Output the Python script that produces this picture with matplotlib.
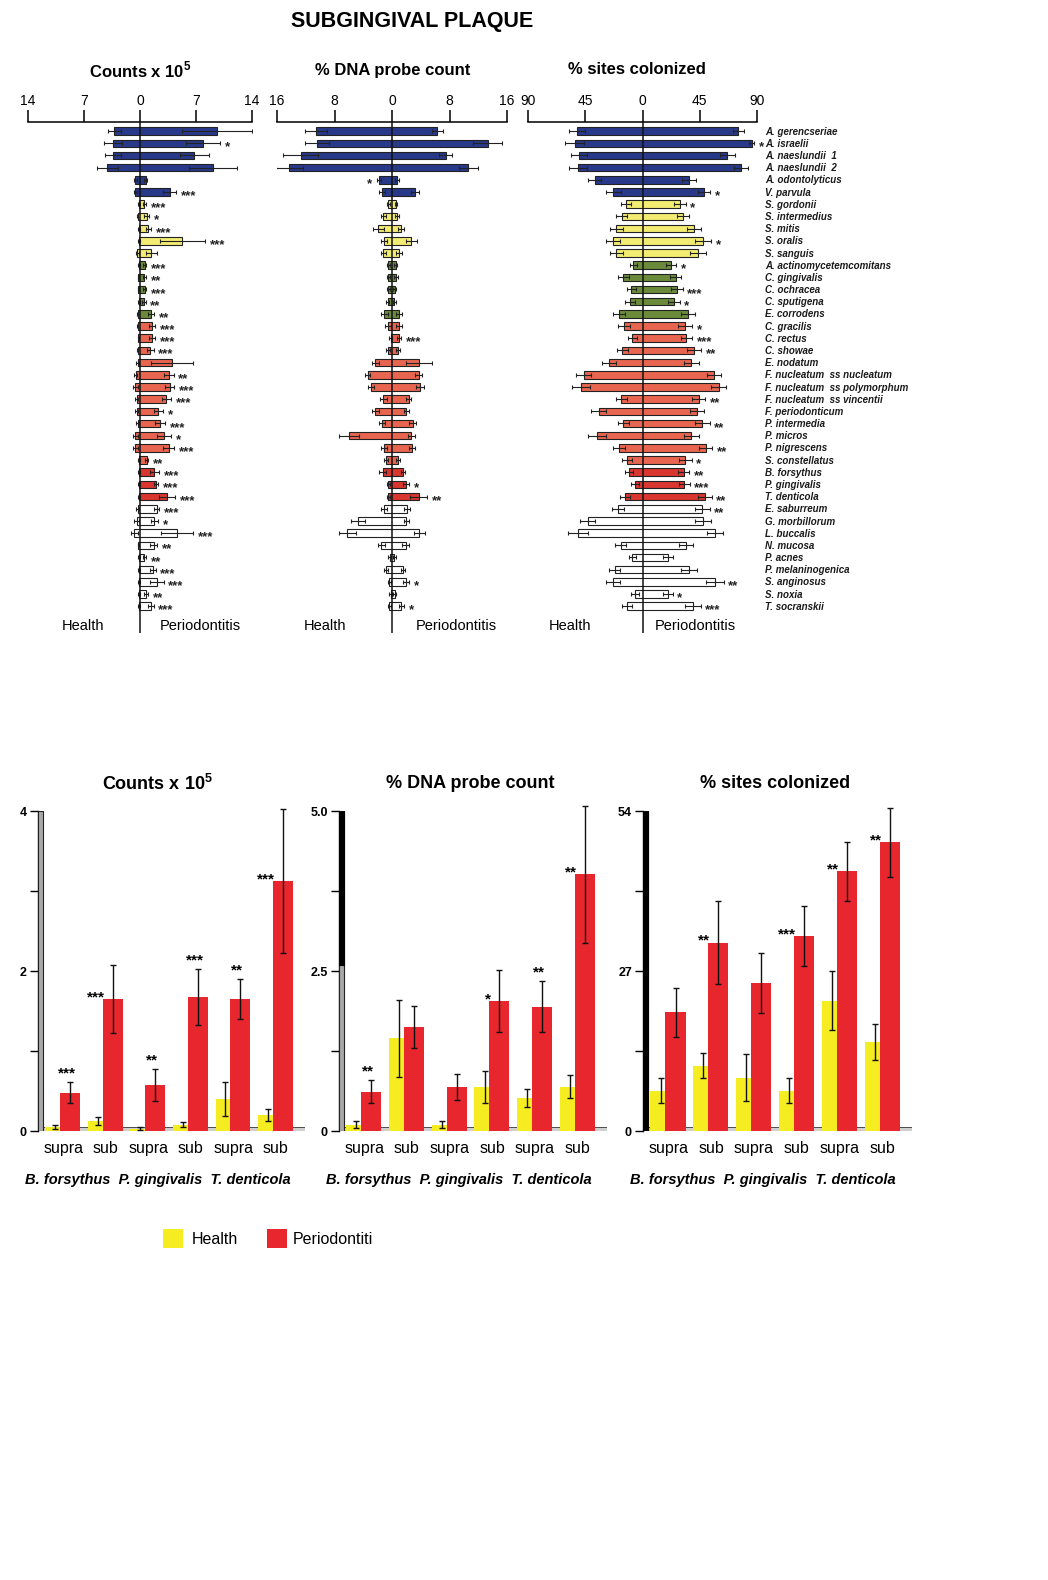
import matplotlib
matplotlib.use('Agg')
import matplotlib.pyplot as plt
from matplotlib.patches import Rectangle
from matplotlib import transforms
import numpy as np

plt.rcParams['font.family'] = ['Liberation Sans', 'DejaVu Sans']
plt.rcParams['mathtext.fontset'] = 'custom'
plt.rcParams['mathtext.rm'] = 'Liberation Sans'
plt.rcParams['mathtext.bf'] = 'Liberation Sans:bold'

# species (top panels)
species = ['A. gerencseriae', 'A. israelii', 'A. naeslundii  1', 'A. naeslundii  2', 'A. odontolyticus',
           'V. parvula', 'S. gordonii', 'S. intermedius', 'S. mitis', 'S. oralis', 'S. sanguis',
           'A. actinomycetemcomitans', 'C. gingivalis', 'C. ochracea', 'C. sputigena', 'E. corrodens',
           'C. gracilis', 'C. rectus', 'C. showae', 'E. nodatum', 'F. nucleatum  ss nucleatum',
           'F. nucleatum  ss polymorphum', 'F. nucleatum  ss vincentii', 'F. periodonticum',
           'P. intermedia', 'P. micros', 'P. nigrescens', 'S. constellatus', 'B. forsythus',
           'P. gingivalis', 'T. denticola', 'E. saburreum', 'G. morbillorum', 'L. buccalis',
           'N. mucosa', 'P. acnes', 'P. melaninogenica', 'S. anginosus', 'S. noxia', 'T. socranskii']
complex_sizes = [6, 5, 5, 12, 3, 9]
complex_colors = ['#29398a', '#f3ec72', '#6b8b3b', '#e8654f', '#d9362f', '#ffffff']

# counts x 10^5 : health / periodontitis means and errors
cnt_h = [3.2, 3.4, 3.4, 4.1, 0.6, 0.6, 0.1, 0.3, 0.1, 0.1, 0.35, 0.1, 0.2, 0.2, 0.1, 0.3, 0.3, 0.2, 0.3, 0.3,
         0.55, 0.6, 0.4, 0.4, 0.3, 0.6, 0.6, 0.1, 0.1, 0.1, 0.1, 0.3, 0.4, 0.7, 0.2, 0.1, 0.1, 0.1, 0.1, 0.1]
cnt_he = [0.8, 1.1, 1.0, 1.3, 0.2, 0.2, 0.1, 0.1, 0.1, 0.1, 0.2, 0.1, 0.1, 0.1, 0.1, 0.1, 0.1, 0.1, 0.1, 0.2,
          0.2, 0.3, 0.2, 0.2, 0.2, 0.3, 0.3, 0.1, 0.1, 0.1, 0.1, 0.2, 0.3, 0.4, 0.1, 0.1, 0.1, 0.1, 0.1, 0.1]
cnt_p = [9.6, 7.9, 6.8, 9.1, 0.7, 3.7, 0.55, 0.85, 1.05, 5.3, 1.4, 0.6, 0.55, 0.6, 0.5, 1.4, 1.5, 1.5, 1.3, 4.0,
         3.6, 3.7, 3.3, 2.3, 2.5, 3.0, 3.6, 0.85, 1.8, 2.0, 3.4, 2.1, 1.8, 4.6, 1.7, 0.55, 1.6, 2.1, 0.75, 1.35]
cnt_pe = [4.4, 2.1, 1.8, 3.0, 0.2, 0.8, 0.2, 0.3, 0.3, 2.8, 0.7, 0.2, 0.2, 0.2, 0.2, 0.4, 0.4, 0.4, 0.4, 2.6,
          0.6, 0.55, 0.6, 0.55, 0.6, 0.85, 0.7, 0.2, 0.55, 0.3, 1.0, 0.3, 0.45, 2.0, 0.4, 0.2, 0.35, 0.85, 0.3, 0.35]
cnt_stars = ['', '*', '', '', '', '***', '***', '*', '***', '***', '', '***', '**', '***', '**', '**',
             '***', '***', '***', '', '**', '***', '***', '*', '***', '*', '***', '**', '***', '***',
             '***', '***', '*', '***', '**', '**', '***', '***', '**', '***']

# % DNA probe count
dna_h = [10.6, 10.4, 12.7, 14.3, 1.8, 1.4, 0.5, 1.2, 1.9, 1.1, 1.2, 0.5, 0.5, 0.5, 0.6, 1.1, 0.6, 0.2, 0.6, 2.3,
         3.4, 2.9, 1.2, 2.3, 1.4, 6.0, 1.1, 0.85, 1.3, 0.5, 0.5, 1.1, 4.7, 6.2, 1.5, 0.3, 0.85, 0.4, 0.2, 0.4]
dna_he = [1.5, 1.7, 2.4, 1.9, 0.3, 0.4, 0.2, 0.4, 0.8, 0.4, 0.4, 0.2, 0.2, 0.2, 0.2, 0.5, 0.4, 0.2, 0.3, 0.5,
          0.4, 0.4, 0.5, 0.5, 0.4, 1.4, 0.4, 0.3, 0.5, 0.2, 0.2, 0.4, 1.0, 1.2, 0.5, 0.2, 0.3, 0.2, 0.2, 0.2]
dna_p = [6.3, 13.3, 7.5, 10.6, 0.65, 3.2, 0.55, 0.65, 1.3, 2.7, 0.95, 0.5, 0.6, 0.4, 0.3, 1.0, 1.0, 1.0, 0.8, 3.7,
         3.7, 3.9, 2.3, 2.0, 2.9, 2.7, 2.8, 0.8, 1.5, 1.9, 3.7, 2.1, 2.0, 3.8, 1.9, 0.3, 1.5, 1.9, 0.4, 1.3]
dna_pe = [0.8, 2.0, 0.9, 1.3, 0.3, 0.6, 0.2, 0.3, 0.4, 0.8, 0.4, 0.2, 0.3, 0.2, 0.2, 0.4, 0.4, 0.3, 0.3, 1.8,
          0.5, 0.6, 0.4, 0.4, 0.5, 0.5, 0.4, 0.3, 0.3, 0.4, 1.2, 0.4, 0.3, 0.8, 0.5, 0.2, 0.3, 0.4, 0.2, 0.3]
dna_stars = [''] * 17 + ['***'] + [''] * 11 + ['*', '**'] + [''] * 6 + ['*', '', '*']
dna_left_stars = {4: '*'}

# % sites colonized
site_h = [51.6, 53.4, 50.0, 50.8, 37.6, 23.0, 13.2, 16.4, 20.6, 23.0, 20.6, 7.1, 15.0, 8.7, 10.0, 18.5, 14.5,
          7.9, 15.9, 26.5, 46.3, 48.1, 16.7, 34.4, 15.0, 35.7, 18.5, 12.4, 10.6, 6.1, 14.0, 19.3, 43.0, 50.8,
          17.2, 7.9, 22.0, 23.0, 6.1, 12.4]
site_he = [6.5, 7.5, 6.0, 6.8, 5.0, 5.8, 4.0, 4.5, 5.0, 5.5, 5.0, 3.0, 4.5, 3.5, 4.0, 5.0, 4.5, 3.5, 4.5, 5.5,
           6.0, 7.0, 4.5, 6.0, 4.5, 7.0, 5.0, 4.0, 3.5, 3.0, 4.0, 4.5, 6.0, 8.0, 4.5, 3.0, 4.5, 5.5, 3.0, 4.0]
site_p = [75.4, 86.0, 66.7, 77.2, 36.5, 48.4, 29.6, 31.7, 40.2, 47.6, 43.6, 22.5, 26.0, 27.0, 24.6, 35.7, 33.6,
          34.4, 40.5, 38.4, 56.0, 60.0, 44.2, 42.9, 47.0, 38.4, 49.7, 33.6, 32.3, 33.0, 49.0, 47.0, 47.6, 56.9,
          34.4, 19.8, 36.5, 56.9, 19.8, 39.7]
site_pe = [4.5, 2.0, 6.0, 5.5, 5.5, 5.0, 4.5, 4.5, 5.5, 6.5, 6.0, 4.0, 4.5, 4.5, 4.5, 5.5, 5.5, 4.5, 5.5, 6.0,
           5.5, 6.0, 5.0, 5.5, 6.0, 6.0, 5.0, 5.0, 4.5, 4.0, 5.5, 6.0, 6.0, 6.5, 5.5, 4.0, 6.0, 7.0, 4.0, 6.0]
site_stars = ['', '*', '', '', '', '*', '*', '', '', '*', '', '*', '', '***', '*', '', '*', '***', '**', '',
              '', '', '**', '', '**', '', '**', '*', '**', '***', '**', '**', '', '', '', '', '', '**', '*', '***']

# bottom panels: supra / sub for the three red complex species
pair_labels = ['supra', 'sub', 'supra', 'sub', 'supra', 'sub']
red_species = ['B. forsythus', 'P. gingivalis', 'T. denticola']

b_cnt_h = [0.05, 0.12, 0.03, 0.08, 0.40, 0.20]
b_cnt_he = [0.03, 0.05, 0.02, 0.03, 0.21, 0.08]
b_cnt_p = [0.48, 1.65, 0.58, 1.68, 1.65, 3.12]
b_cnt_pe = [0.13, 0.43, 0.20, 0.35, 0.25, 0.90]
b_cnt_stars = ['***', '***', '**', '***', '**', '***']

b_dna_h = [0.10, 1.45, 0.10, 0.69, 0.51, 0.69]
b_dna_he = [0.05, 0.60, 0.05, 0.25, 0.14, 0.18]
b_dna_p = [0.61, 1.63, 0.69, 2.03, 1.94, 4.01]
b_dna_pe = [0.18, 0.33, 0.20, 0.48, 0.40, 1.07]
b_dna_stars = ['**', '', '', '*', '**', '**']

b_site_h = [6.8, 11.0, 9.0, 6.8, 22.0, 15.0]
b_site_he = [2.1, 2.1, 4.0, 2.1, 5.0, 3.0]
b_site_p = [20.0, 31.8, 25.0, 32.9, 43.8, 48.7]
b_site_pe = [4.1, 7.0, 5.1, 5.0, 5.0, 5.8]
b_site_stars = ['', '**', '', '***', '**', '**']

W, H = 1048, 1580
fig = plt.figure(figsize=(W / 100, H / 100), dpi=100)


def box(x0, y0, x1, y1):
    # pixel box (top-left origin) -> figure fraction
    return [x0 / W, 1 - y1 / H, (x1 - x0) / W, (y1 - y0) / H]


bar_colors = []
for n, c in zip(complex_sizes, complex_colors):
    bar_colors += [c] * n

rows = np.arange(len(species))
counts_title = r'Counts x 10$^{\mathbf{5}}$'


def butterfly(x0, x1, lim, ticks, hv, he, pv, pe, stars, gap):
    ax = fig.add_axes(box(x0, 122, x1, 633))
    ax.set_xlim(-lim, lim)
    ax.set_ylim(41.2, -0.75)
    hv, pv = np.array(hv), np.array(pv)
    ax.barh(rows, hv + pv, left=-hv, height=0.62, color=bar_colors, edgecolor='#222222',
            linewidth=0.8, zorder=2)
    ax.errorbar(-hv, rows, xerr=he, fmt='none', ecolor='#222222', elinewidth=0.8,
                capsize=1.5, capthick=0.8, zorder=3)
    ax.errorbar(pv, rows, xerr=pe, fmt='none', ecolor='#222222', elinewidth=0.8,
                capsize=1.5, capthick=0.8, zorder=3)
    ax.axvline(0, color='#111111', lw=1.1, zorder=4)
    for s in ['left', 'right', 'bottom']:
        ax.spines[s].set_visible(False)
    ax.spines['top'].set_linewidth(1.1)
    ax.xaxis.set_ticks_position('top')
    ax.set_xticks(ticks)
    ax.set_xticklabels([str(abs(t)) for t in ticks])
    ax.tick_params(axis='x', direction='out', length=9, width=1.1, labelsize=10, pad=1)
    ax.set_yticks([])
    ax.patch.set_visible(False)
    for i, s in enumerate(stars):
        if s:
            ax.text(pv[i] + pe[i] + gap, i + 0.35, s, ha='left', va='center',
                    fontsize=9.5, fontweight='bold', color='#222222')
    return ax


ax1 = butterfly(28, 252, 14, [-14, -7, 0, 7, 14], cnt_h, cnt_he, cnt_p, cnt_pe, cnt_stars, 0.6)
ax2 = butterfly(277, 507, 16, [-16, -8, 0, 8, 16], dna_h, dna_he, dna_p, dna_pe, dna_stars, 0.7)
for i, s in dna_left_stars.items():
    ax2.text(-dna_h[i] - dna_he[i] - 0.7, i + 0.35, s, ha='right', va='center',
             fontsize=9.5, fontweight='bold', color='#222222')
ax3 = butterfly(528, 757, 90, [-90, -45, 0, 45, 90], site_h, site_he, site_p, site_pe, site_stars, 3.5)

lbl_tr = transforms.blended_transform_factory(ax3.transAxes, ax3.transData)
for i, name in enumerate(species):
    ax3.text(1.035, i + 0.05, name, transform=lbl_tr, ha='left', va='center', fontsize=7,
             fontweight='bold', style='italic', color='#1a1a1a')

fig.text(412 / W, 1 - 21 / H, 'SUBGINGIVAL PLAQUE', ha='center', va='center',
         fontsize=15.5, fontweight='bold')
for xc, t in [(140, counts_title), (393, '% DNA probe count'), (637, '% sites colonized')]:
    fig.text(xc / W, 1 - 70 / H, t, ha='center', va='center', fontsize=12, fontweight='bold')
for xh, xp in [(83, 200), (325, 456), (570, 695)]:
    fig.text(xh / W, 1 - 626 / H, 'Health', ha='center', va='center', fontsize=10.5)
    fig.text(xp / W, 1 - 626 / H, 'Periodontitis', ha='center', va='center', fontsize=10.5)

# bottom 3D-style bar panels
yellow = '#f5ec22'
red = '#e8262d'
xpos = np.arange(6)


def pair_panel(x0, x1, ymax, ticks, tlabels, hv, he, pv, pe, stars, title, title_x, wall_black_from):
    ax = fig.add_axes(box(x0, 811, x1, 1131))
    ax.set_xlim(-0.61, 5.67)
    ax.set_ylim(0, ymax)
    ax.bar(xpos - 0.2, hv, width=0.47, color=yellow, zorder=2)
    eb1 = ax.errorbar(xpos - 0.2, hv, yerr=he, fmt='none', ecolor='#111111', elinewidth=1,
                      capsize=2, capthick=1, zorder=3)
    ax.bar(xpos + 0.15, pv, width=0.47, color=red, zorder=4)
    eb2 = ax.errorbar(xpos + 0.15, pv, yerr=pe, fmt='none', ecolor='#111111', elinewidth=1,
                      capsize=2, capthick=1, zorder=5)
    for eb in (eb1, eb2):
        for art in list(eb.lines[1]) + list(eb.lines[2]):
            art.set_clip_on(False)
    # floor and wall
    tr = transforms.blended_transform_factory(ax.transAxes, ax.transData)
    ax.add_patch(Rectangle((0, 0), 1, 0.014 * ymax, transform=tr, facecolor='#cfcfcf',
                           edgecolor='#333333', lw=0.6, zorder=1))
    ax.add_patch(Rectangle((0, 0), 0.02, ymax, transform=tr, facecolor='#a8a8a8',
                           edgecolor='#222222', lw=0.8, zorder=6))
    if wall_black_from is not None:
        ax.add_patch(Rectangle((0, wall_black_from), 0.02, ymax - wall_black_from, transform=tr,
                               facecolor='black', edgecolor='black', lw=0.8, zorder=7))
    for i, s in enumerate(stars):
        if not s:
            continue
        if pe[i] > 0.09 * ymax:
            ax.text(xpos[i] - 0.04, pv[i] + 0.005 * ymax, s, ha='right', va='center',
                    fontsize=11, fontweight='bold', zorder=8)
        else:
            ax.text(xpos[i] + 0.08, pv[i] + pe[i] + 0.005 * ymax, s, ha='center', va='bottom',
                    fontsize=11, fontweight='bold', zorder=8)
    for s in ['top', 'right', 'bottom']:
        ax.spines[s].set_visible(False)
    ax.spines['left'].set_linewidth(1)
    ax.set_yticks(ticks)
    ax.set_yticklabels(tlabels)
    ax.tick_params(axis='y', direction='out', length=6, width=1, labelsize=9, pad=2)
    for lab in ax.get_yticklabels():
        lab.set_fontweight('bold')
    ax.set_xticks(xpos - 0.02)
    ax.set_xticklabels(pair_labels)
    ax.tick_params(axis='x', length=0, labelsize=11.5, pad=7)
    ax.patch.set_visible(False)
    sp_tr = transforms.blended_transform_factory(ax.transAxes, ax.transAxes)
    label = '  '.join(red_species)
    ax.text(120 / (x1 - x0), -0.153, label, transform=sp_tr, ha='center', va='center',
            fontsize=10.5, fontweight='bold', style='italic')
    fig.text(title_x / W, 1 - 784 / H, title, ha='center', va='center', fontsize=13, fontweight='bold')
    return ax


pair_panel(38, 305, 4, [0, 1, 2, 3, 4], ['0', '', '2', '', '4'],
           b_cnt_h, b_cnt_he, b_cnt_p, b_cnt_pe, b_cnt_stars, counts_title, 157, None)
pair_panel(339, 607, 5.0, [0, 1.25, 2.5, 3.75, 5.0], ['0', '', '2.5', '', '5.0'],
           b_dna_h, b_dna_he, b_dna_p, b_dna_pe, b_dna_stars, '% DNA probe count', 470, 2.6)
pair_panel(643, 912, 54, [0, 13.5, 27, 40.5, 54], ['0', '', '27', '', '54'],
           b_site_h, b_site_he, b_site_p, b_site_pe, b_site_stars, '% sites colonized', 775, 0)

# legend
axl = fig.add_axes(box(158, 1220, 373, 1258))
axl.set_xlim(158, 373)
axl.set_ylim(1258, 1220)
axl.axis('off')
axl.add_patch(Rectangle((163, 1229), 20, 19, facecolor=yellow, edgecolor='none'))
axl.add_patch(Rectangle((267, 1229), 20, 19, facecolor=red, edgecolor='none'))
axl.text(192, 1239, 'Health', ha='left', va='center', fontsize=11.5)
axl.text(293, 1239, 'Periodontitis', ha='left', va='center', fontsize=11.5, clip_on=True)

fig.savefig('out.png', dpi=100, facecolor='white')
